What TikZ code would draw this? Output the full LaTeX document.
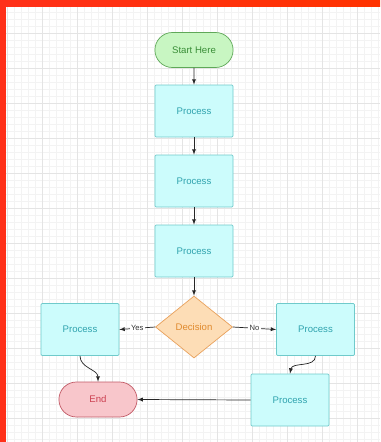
\documentclass[tikz,border=0pt]{standalone}
\usepackage{fontspec}
\setmainfont{Liberation Sans}
\usetikzlibrary{shapes.geometric, shapes.misc}
\definecolor{cielo}{HTML}{CCFCFC}
\definecolor{cieloborde}{HTML}{6FCACB}
\definecolor{cielotexto}{HTML}{2FA3AE}
\definecolor{verde}{HTML}{C8F6C2}
\definecolor{verdeborde}{HTML}{5FA858}
\definecolor{verdetexto}{HTML}{3A8E38}
\definecolor{rosa}{HTML}{F8C6CB}
\definecolor{rosaborde}{HTML}{C25A66}
\definecolor{rosatexto}{HTML}{CC4152}
\definecolor{durazno}{HTML}{FDDDB6}
\definecolor{duraznoborde}{HTML}{E9A15C}
\definecolor{duraznotexto}{HTML}{E08A2E}
\definecolor{rejilla}{HTML}{E4E4E4}
\definecolor{rejillafina}{HTML}{F3F3F3}
\begin{document}
\begin{tikzpicture}[x=0.03cm, y=-0.03cm,
  every node/.style={font=\fontsize{8.2}{10}\selectfont},
  proceso/.style={draw=cieloborde, fill=cielo, text=cielotexto, line width=0.6pt,
    minimum width=2.34cm, minimum height=1.56cm, rounded corners=1pt},
  extremo/.style={rounded rectangle, line width=0.6pt,
    minimum width=2.58cm, minimum height=1.05cm},
  decision/.style={diamond, draw=duraznoborde, fill=durazno, text=duraznotexto,
    line width=0.6pt, minimum width=2.31cm, minimum height=1.86cm, inner sep=0pt},
  flecha/.style={-latex, black!85, line width=0.6pt},
  rotulo/.style={fill=white, inner sep=1pt, font=\fontsize{6.5}{8}\selectfont, text=black!80}]
  \useasboundingbox (0,0) rectangle (380,442);
  % fondo con rejilla
  \fill[white] (0,0) rectangle (380,442);
  \foreach \i in {0,...,53} \draw[rejillafina, line width=0.3pt] (7+7*\i,6) -- (7+7*\i,442);
  \foreach \j in {0,...,62} \draw[rejillafina, line width=0.3pt] (6,5+7*\j) -- (380,5+7*\j);
  \foreach \i in {0,...,10} \draw[rejilla, line width=0.4pt] (7+35*\i,6) -- (7+35*\i,442);
  \foreach \j in {0,...,12} \draw[rejilla, line width=0.4pt] (6,33+35*\j) -- (380,33+35*\j);
  % marco rojo
  \shade[left color=red!80!orange!90!white, right color=red!60!orange] (0,0) rectangle (380,6);
  \fill[red!80!orange!90!white] (0,0) rectangle (6,442);
  % columna central
  \node[extremo, draw=verdeborde, fill=verde, text=verdetexto] (inicio) at (194,50) {Start Here};
  \node[proceso] (p1) at (194,111) {Process};
  \node[proceso] (p2) at (194,181) {Process};
  \node[proceso] (p3) at (194,251) {Process};
  \node[decision] (dec) at (194,327) {Decision};
  % ramas
  \node[proceso] (izq) at (80,329.5) {Process};
  \node[proceso] (der) at (315.5,329.5) {Process};
  \node[proceso] (abajo) at (290,400) {Process};
  \node[extremo, draw=rosaborde, fill=rosa, text=rosatexto] (fin) at (98,399.5) {End};
  % conexiones
  \draw[flecha] (inicio) -- (p1);
  \draw[flecha] (p1) -- (p2);
  \draw[flecha] (p2) -- (p3);
  \draw[flecha] (p3) -- (dec);
  \draw[flecha] (dec.west) -- node[rotulo] {Yes} (izq.east);
  \draw[flecha] (dec.east) -- node[rotulo] {No} (der.west);
  \draw[flecha] (izq.south) to[out=-90, in=90] (fin.north);
  \draw[flecha] (der.south) to[out=-90, in=80] (abajo.north);
  \draw[flecha] (abajo.west) -- (fin.east);
\end{tikzpicture}
\end{document}
